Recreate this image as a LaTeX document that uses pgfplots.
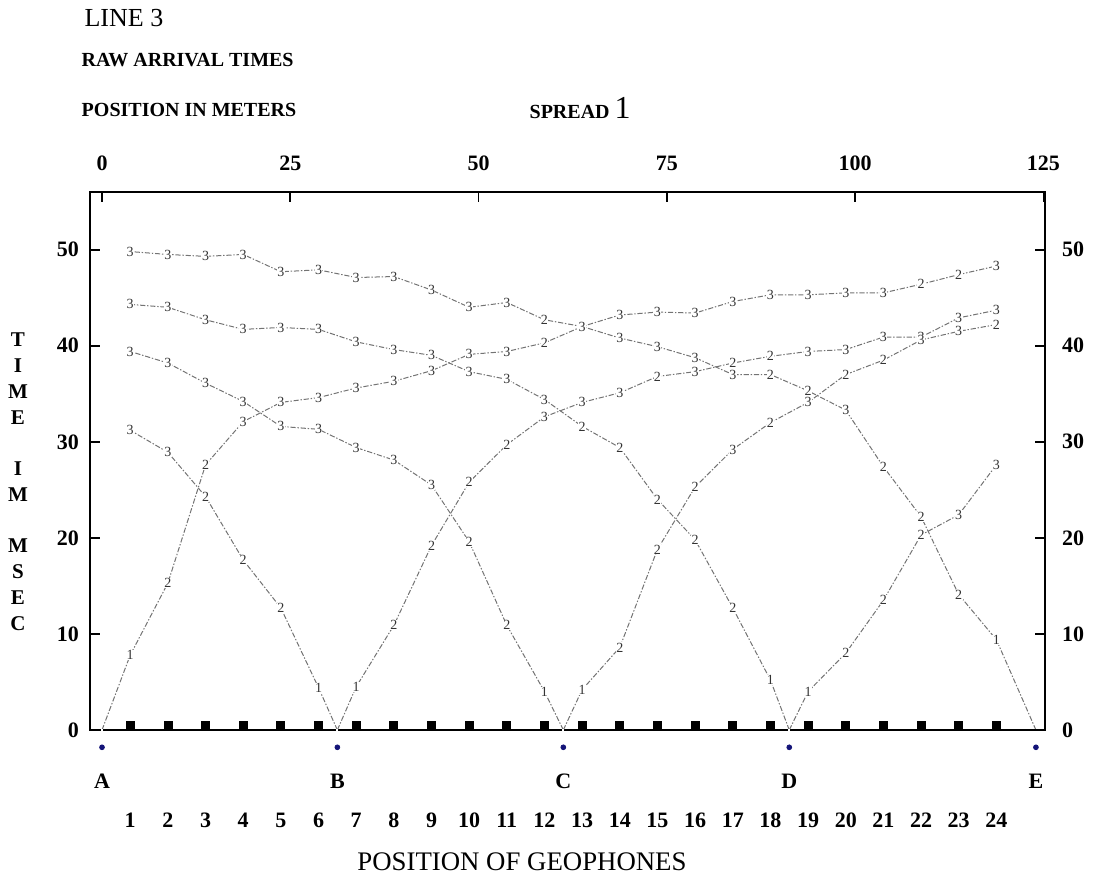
\documentclass[border=0pt]{standalone}
\usepackage{pgfplots}
\pgfplotsset{compat=1.18}
\usepackage{fontspec}
\setmainfont{Liberation Serif}
\begin{document}
\begin{tikzpicture}
\pgfplotsset{
  shotline/.style={black!55, line width=0.5pt,
    dash pattern=on 2.6pt off 0.9pt on 0.7pt off 0.9pt,
    point meta=explicit symbolic, nodes near coords,
    nodes near coords align={center},
    every node near coord/.append style={anchor=center,
      font=\fontsize{7}{8}\selectfont, text=black!80,
      fill=white, inner sep=0.2pt, solid}},
}
\begin{axis}[
  scale only axis, width=477.5pt, height=269pt,
  xmin=-1.6, xmax=125.2, ymin=0, ymax=56,
  clip=false,
  axis line style={line width=1.3pt},
  tick align=inside,
  major tick length=5pt,
  ytick={0,10,20,30,40,50},
  yticklabel pos=left,
  ytick style={line width=0.9pt, black},
  yticklabel style={font=\bfseries\fontsize{11}{13}\selectfont, xshift=-2pt},
  xtick={3.75,8.75,13.75,18.75,23.75,28.75,33.75,38.75,43.75,48.75,53.75,58.75,63.75,68.75,73.75,78.75,83.75,88.75,93.75,98.75,103.75,108.75,113.75,118.75},
  xticklabels={1,2,3,4,5,6,7,8,9,10,11,12,13,14,15,16,17,18,19,20,21,22,23,24},
  xtick style={draw=none},
  xticklabel pos=lower,
  xticklabel style={font=\bfseries\fontsize{11}{13}\selectfont, yshift=-38pt},
  /pgf/number format/assume math mode=true,
]
% shot A, forward
\addplot[shotline] coordinates {(0,0)[] (3.75,7.8)[1] (8.75,15.3)[2] (13.75,27.6)[2] (18.75,32.1)[3] (23.75,34.1)[3] (28.75,34.6)[3] (33.75,35.6)[3] (38.75,36.3)[3] (43.75,37.4)[3] (48.75,39.1)[3] (53.75,39.4)[3] (58.75,40.3)[2] (63.75,42.0)[3] (68.75,43.2)[3] (73.75,43.5)[3] (78.75,43.4)[3] (83.75,44.6)[3] (88.75,45.3)[3] (93.75,45.3)[3] (98.75,45.5)[3] (103.75,45.5)[3] (108.75,46.4)[2] (113.75,47.4)[2] (118.75,48.3)[3]};
% shot B
\addplot[shotline] coordinates {(31.25,0)[] (28.75,4.4)[1] (23.75,12.7)[2] (18.75,17.7)[2] (13.75,24.3)[2] (8.75,28.9)[3] (3.75,31.2)[3]};
\addplot[shotline] coordinates {(31.25,0)[] (33.75,4.5)[1] (38.75,10.9)[2] (43.75,19.2)[2] (48.75,25.8)[2] (53.75,29.7)[2] (58.75,32.6)[3] (63.75,34.1)[3] (68.75,35.1)[3] (73.75,36.8)[2] (78.75,37.3)[3] (83.75,38.2)[2] (88.75,38.9)[2] (93.75,39.4)[3] (98.75,39.6)[3] (103.75,40.9)[3] (108.75,40.9)[3] (113.75,42.9)[3] (118.75,43.7)[3]};
% shot C
\addplot[shotline] coordinates {(61.25,0)[] (58.75,4.0)[1] (53.75,10.9)[2] (48.75,19.6)[2] (43.75,25.5)[3] (38.75,28.1)[3] (33.75,29.4)[3] (28.75,31.3)[3] (23.75,31.6)[3] (18.75,34.2)[3] (13.75,36.1)[3] (8.75,38.2)[3] (3.75,39.4)[3]};
\addplot[shotline] coordinates {(61.25,0)[] (63.75,4.2)[1] (68.75,8.6)[2] (73.75,18.8)[2] (78.75,25.3)[2] (83.75,29.2)[3] (88.75,32.0)[2] (93.75,34.1)[3] (98.75,37.0)[2] (103.75,38.5)[2] (108.75,40.6)[3] (113.75,41.5)[3] (118.75,42.2)[2]};
% shot D
\addplot[shotline] coordinates {(91.25,0)[] (88.75,5.2)[1] (83.75,12.7)[2] (78.75,19.8)[2] (73.75,24.0)[2] (68.75,29.4)[2] (63.75,31.6)[2] (58.75,34.4)[3] (53.75,36.5)[3] (48.75,37.3)[3] (43.75,39.0)[3] (38.75,39.6)[3] (33.75,40.4)[3] (28.75,41.7)[3] (23.75,41.9)[3] (18.75,41.7)[3] (13.75,42.7)[3] (8.75,44.0)[3] (3.75,44.3)[3]};
\addplot[shotline] coordinates {(91.25,0)[] (93.75,4.0)[1] (98.75,8.0)[2] (103.75,13.5)[2] (108.75,20.3)[2] (113.75,22.4)[3] (118.75,27.6)[3]};
% shot E, reverse
\addplot[shotline] coordinates {(124,0)[] (118.75,9.4)[1] (113.75,14.1)[2] (108.75,22.2)[2] (103.75,27.4)[2] (98.75,33.3)[3] (93.75,35.3)[2] (88.75,37.0)[2] (83.75,37.0)[3] (78.75,38.75)[3] (73.75,39.9)[3] (68.75,40.8)[3] (63.75,42.0)[3] (58.75,42.7)[2] (53.75,44.5)[3] (48.75,44.0)[3] (43.75,45.8)[3] (38.75,47.2)[3] (33.75,47.1)[3] (28.75,47.9)[3] (23.75,47.7)[3] (18.75,49.5)[3] (13.75,49.3)[3] (8.75,49.5)[3] (3.75,49.8)[3]};
% geophones
\addplot[only marks, mark=square*, mark size=2pt, black] coordinates {(3.75,0.45) (8.75,0.45) (13.75,0.45) (18.75,0.45) (23.75,0.45) (28.75,0.45) (33.75,0.45) (38.75,0.45) (43.75,0.45) (48.75,0.45) (53.75,0.45) (58.75,0.45) (63.75,0.45) (68.75,0.45) (73.75,0.45) (78.75,0.45) (83.75,0.45) (88.75,0.45) (93.75,0.45) (98.75,0.45) (103.75,0.45) (108.75,0.45) (113.75,0.45) (118.75,0.45)};
% shot points
\addplot[only marks, mark=*, mark size=1.2pt, color={rgb,255:red,20;green,20;blue,120},
  point meta=explicit symbolic, nodes near coords,
  every node near coord/.append style={anchor=center, yshift=-17pt, text=black, font=\bfseries\fontsize{11}{13}\selectfont}]
  coordinates {(0,-1.8)[A] (31.25,-1.8)[B] (61.25,-1.8)[C] (91.25,-1.8)[D] (124,-1.8)[E]};
% texts
\node[anchor=west, font=\fontsize{13}{15}\selectfont] at (rel axis cs:-0.013,1.3234) {LINE 3};
\node[anchor=west, font=\bfseries\fontsize{10}{12}\selectfont] at (rel axis cs:-0.016,1.2454) {RAW ARRIVAL TIMES};
\node[anchor=west, font=\bfseries\fontsize{10}{12}\selectfont] at (rel axis cs:-0.016,1.153) {POSITION IN METERS};
\node[anchor=west, font=\bfseries\fontsize{10}{12}\selectfont] at (rel axis cs:0.453,1.156) {SPREAD {\mdseries\fontsize{16}{18}\selectfont 1}};
\node[font=\fontsize{13.4}{16}\selectfont] at (rel axis cs:0.4524,-0.2454) {POSITION OF GEOPHONES};
\node[font=\bfseries\fontsize{10.5}{12.5}\selectfont] at (rel axis cs:-0.0754,0.459)
  {\renewcommand\arraystretch{1.04}\begin{tabular}{@{}c@{}}T\\I\\M\\E\\[12.5pt]I\\M\\[12.5pt]M\\S\\E\\C\end{tabular}};
\coordinate (bbl) at (rel axis cs:-0.0942,-0.2751);
\coordinate (btr) at (rel axis cs:1.0639,1.3569);
\end{axis}
\begin{axis}[
  scale only axis, width=477.5pt, height=269pt,
  xmin=-1.6, xmax=125.2, ymin=0, ymax=56,
  axis x line*=top, axis y line*=right,
  axis line style={line width=1.3pt},
  tick align=inside,
  major tick length=5pt,
  tick style={line width=0.9pt, black},
  xtick={0,25,50,75,100,125},
  ytick={0,10,20,30,40,50},
  ticklabel style={font=\bfseries\fontsize{11}{13}\selectfont},
  xticklabel style={yshift=7pt},
  yticklabel style={xshift=5pt},
  /pgf/number format/assume math mode=true,
]
\end{axis}
\pgfresetboundingbox
\path[use as bounding box] (bbl) rectangle (btr);
\end{tikzpicture}
\end{document}
